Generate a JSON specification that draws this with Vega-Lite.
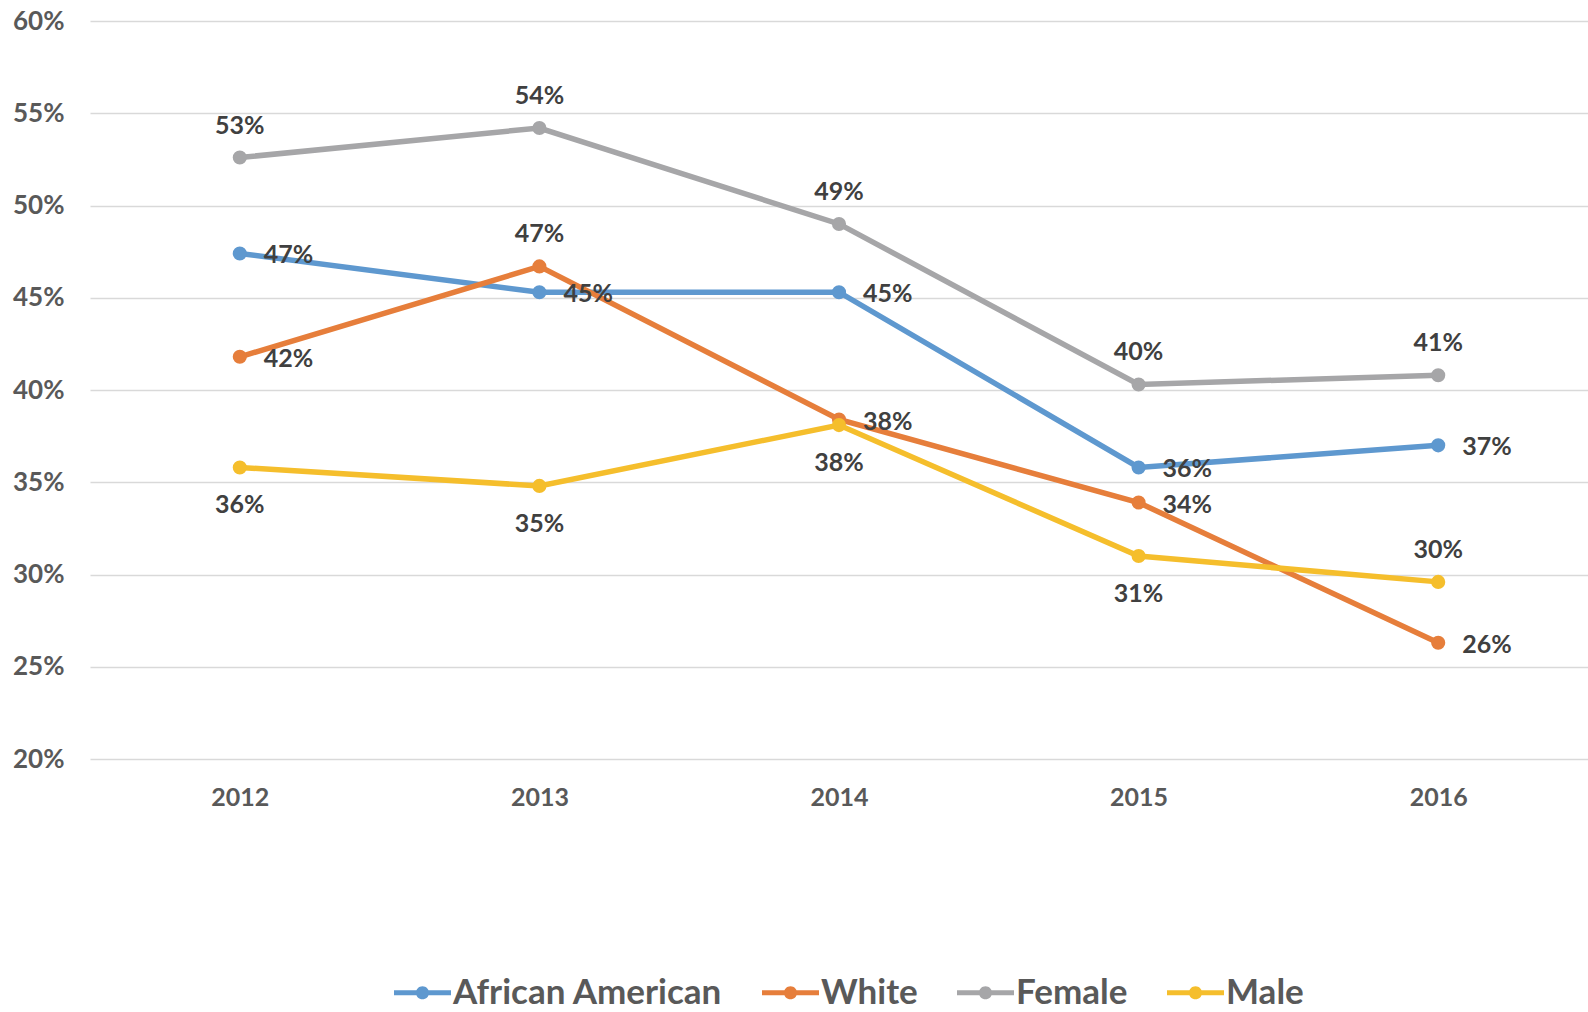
{
  "$schema": "https://vega.github.io/schema/vega-lite/v6.json",
  "width": 1498,
  "height": 738,
  "autosize": {"type": "none"},
  "padding": {"left": 90, "top": 21, "right": 0, "bottom": 253},
  "background": "white",
  "config": {"view": {"stroke": null}, "font": "Lato"},
  "data": {
    "values": [
      {"year": "2012", "series": "African American", "value": 0.474},
      {"year": "2013", "series": "African American", "value": 0.453},
      {"year": "2014", "series": "African American", "value": 0.453},
      {"year": "2015", "series": "African American", "value": 0.358},
      {"year": "2016", "series": "African American", "value": 0.370},
      {"year": "2012", "series": "White", "value": 0.418},
      {"year": "2013", "series": "White", "value": 0.467},
      {"year": "2014", "series": "White", "value": 0.384},
      {"year": "2015", "series": "White", "value": 0.339},
      {"year": "2016", "series": "White", "value": 0.263},
      {"year": "2012", "series": "Female", "value": 0.526},
      {"year": "2013", "series": "Female", "value": 0.542},
      {"year": "2014", "series": "Female", "value": 0.490},
      {"year": "2015", "series": "Female", "value": 0.403},
      {"year": "2016", "series": "Female", "value": 0.408},
      {"year": "2012", "series": "Male", "value": 0.358},
      {"year": "2013", "series": "Male", "value": 0.348},
      {"year": "2014", "series": "Male", "value": 0.381},
      {"year": "2015", "series": "Male", "value": 0.310},
      {"year": "2016", "series": "Male", "value": 0.296}
    ]
  },
  "encoding": {
    "x": {
      "field": "year",
      "type": "ordinal",
      "scale": {"type": "point", "padding": 0.5},
      "axis": {
        "title": null,
        "domain": false,
        "ticks": false,
        "grid": false,
        "labelAngle": 0,
        "labelFont": "Lato",
        "labelFontSize": 25,
        "labelFontWeight": "bold",
        "labelColor": "#595959",
        "labelPadding": 26
      }
    },
    "y": {
      "field": "value",
      "type": "quantitative",
      "scale": {"domain": [0.2, 0.6], "nice": false, "zero": false},
      "axis": {
        "title": null,
        "domain": false,
        "ticks": false,
        "values": [0.2, 0.25, 0.3, 0.35, 0.4, 0.45, 0.5, 0.55, 0.6],
        "format": ".0%",
        "grid": true,
        "gridColor": "#D9D9D9",
        "gridWidth": 1.5,
        "labelFont": "Lato",
        "labelFontSize": 26,
        "labelFontWeight": "bold",
        "labelColor": "#595959",
        "labelPadding": 26
      }
    },
    "color": {
      "field": "series",
      "type": "nominal",
      "scale": {
        "domain": ["African American", "White", "Female", "Male"],
        "range": ["#5E98CF", "#E67E3B", "#A6A6A8", "#F5BE2C"]
      },
      "legend": {
        "orient": "none",
        "legendX": 304,
        "legendY": 943,
        "direction": "horizontal",
        "title": null,
        "padding": 0,
        "symbolType": "M -1 -0.09 L 1 -0.09 L 1 0.09 L -1 0.09 Z M 0.23 0 A 0.23 0.23 0 1 1 -0.23 0 A 0.23 0.23 0 1 1 0.23 0 Z",
        "symbolSize": 3249,
        "symbolStrokeWidth": 0,
        "symbolOpacity": 1,
        "labelFont": "Lato",
        "labelFontSize": 35,
        "labelFontWeight": "bold",
        "labelColor": "#595959",
        "labelOffset": 2,
        "columnPadding": 39,
        "labelLimit": 0
      }
    }
  },
  "layer": [
    {
      "mark": {"type": "line", "strokeWidth": 5.5}
    },
    {
      "mark": {"type": "point", "filled": true, "size": 200, "opacity": 1}
    },
    {
      "transform": [
        {"filter": "datum.series == 'Female' || (datum.series == 'White' && datum.year == '2013') || (datum.series == 'Male' && datum.year == '2016')"}
      ],
      "mark": {"type": "text", "font": "Lato", "fontSize": 25, "fontWeight": "bold", "color": "#404040", "align": "center", "baseline": "middle", "dy": -32},
      "encoding": {"text": {"field": "value", "type": "quantitative", "format": ".0%"}, "color": {"value": "#404040"}}
    },
    {
      "transform": [
        {"filter": "datum.series == 'African American' || (datum.series == 'White' && datum.year != '2013')"}
      ],
      "mark": {"type": "text", "font": "Lato", "fontSize": 25, "fontWeight": "bold", "color": "#404040", "align": "left", "baseline": "middle", "dx": 24, "dy": 2},
      "encoding": {"text": {"field": "value", "type": "quantitative", "format": ".0%"}, "color": {"value": "#404040"}}
    },
    {
      "transform": [
        {"filter": "datum.series == 'Male' && datum.year != '2016'"}
      ],
      "mark": {"type": "text", "font": "Lato", "fontSize": 25, "fontWeight": "bold", "color": "#404040", "align": "center", "baseline": "middle", "dy": 38},
      "encoding": {"text": {"field": "value", "type": "quantitative", "format": ".0%"}, "color": {"value": "#404040"}}
    }
  ]
}
